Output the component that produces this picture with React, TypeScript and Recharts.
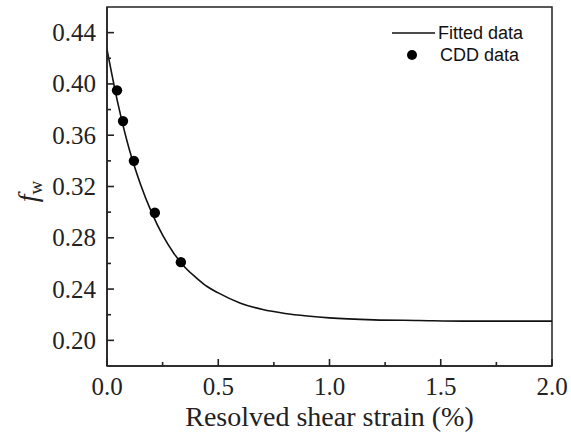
import React from "react";
import {
  ComposedChart,
  Line,
  Scatter,
  XAxis,
  YAxis,
  Legend,
  ReferenceArea,
} from "recharts";

// fitted curve
const fitStrain = [0, 0.05, 0.1, 0.15, 0.2, 0.25, 0.3, 0.35, 0.4, 0.45, 0.5, 0.6, 0.7, 0.8, 0.9, 1.0, 1.2, 1.4, 1.6, 1.8, 2.0];
const fitValue = [0.427, 0.384, 0.349, 0.322, 0.3, 0.282, 0.268, 0.257, 0.249, 0.242, 0.237, 0.229, 0.224, 0.221, 0.219, 0.2175, 0.216, 0.2155, 0.215, 0.215, 0.215];

// CDD points
const cddStrain = [0.045, 0.072, 0.121, 0.215, 0.332];
const cddValue = [0.395, 0.371, 0.34, 0.2995, 0.261];

const xTicks = [0, 0.25, 0.5, 0.75, 1.0, 1.25, 1.5, 1.75, 2.0];
const xLabels = [0, 0.5, 1.0, 1.5, 2.0];
const yTicks = [0.2, 0.22, 0.24, 0.26, 0.28, 0.3, 0.32, 0.34, 0.36, 0.38, 0.4, 0.42, 0.44];
const yLabels = [0.2, 0.24, 0.28, 0.32, 0.36, 0.4, 0.44];
const xDomain = [0, 2];
const yDomain = [0.18, 0.46];

const fitData = fitStrain.map((x, i) => ({ x, y: fitValue[i] }));
const cddData = cddStrain.map((x, i) => ({ x, y: cddValue[i] }));

const SERIF = "Liberation Serif";
const SANS = "Liberation Sans, Arial, sans-serif";
const AXIS = "#222";

const isMajor = (v: number, list: number[]) => list.some((m) => Math.abs(m - v) < 1e-6);

const renderXTick = (props: any) => {
  const { x, y, payload, index } = props;
  const major = isMajor(payload.value, xLabels);
  return (
    <g key={"xt" + index}>
      <line x1={x} x2={x} y1={y} y2={y - (major ? 7 : 4)} stroke={AXIS} strokeWidth={1.6} />
      {major && (
        <text x={x} y={y + 29} textAnchor="middle" fontFamily={SERIF} fontSize={25} fill="#222">
          {payload.value.toFixed(1)}
        </text>
      )}
    </g>
  );
};

const renderYTick = (props: any) => {
  const { x, y, payload, index } = props;
  const major = isMajor(payload.value, yLabels);
  return (
    <g key={"yt" + index}>
      <line x1={x} x2={x + (major ? 7 : 4)} y1={y} y2={y} stroke={AXIS} strokeWidth={1.6} />
      {major && (
        <text x={x - 11} y={y} dy="0.34em" textAnchor="end" fontFamily={SERIF} fontSize={25} fill="#222">
          {payload.value.toFixed(2)}
        </text>
      )}
    </g>
  );
};

const renderLegend = (props: any) => {
  // line entry first, as in the original
  const items = [...(props.payload || [])].sort(
    (a: any, b: any) => (a.type === "line" ? -1 : 0) - (b.type === "line" ? -1 : 0)
  );
  return (
    <div style={{ fontFamily: SANS, fontSize: 18, color: "#111" }}>
      {items.map((it: any) => (
        <div key={it.value} style={{ display: "flex", alignItems: "center", height: 22 }}>
          <svg width={47} height={22}>
            {it.type === "line" ? (
              <line x1={2} x2={45} y1={11} y2={11} stroke="#111" strokeWidth={1.5} />
            ) : (
              <circle cx={22} cy={11} r={5} fill="#000" />
            )}
          </svg>
          <span style={{ marginLeft: it.type === "line" ? 1 : 3, lineHeight: "22px" }}>{it.value}</span>
        </div>
      ))}
    </div>
  );
};

export default function App() {
  return (
    <div style={{ position: "absolute", left: 0, top: 0 }}>
      <ComposedChart width={571} height={433} margin={{ top: 7, right: 19, bottom: 0, left: 0 }}>
        <XAxis
          type="number"
          dataKey="x"
          domain={xDomain}
          ticks={xTicks}
          interval={0}
          height={67}
          tickSize={0}
          tickMargin={0}
          tickLine={false}
          tick={renderXTick}
          stroke={AXIS}
          strokeWidth={1.5}
          label={{
            content: (p: any) => (
              <text x={p.viewBox.x + p.viewBox.width / 2} y={426} textAnchor="middle" fontFamily={SERIF} fontSize={28} fill="#222">
                Resolved shear strain (%)
              </text>
            ),
          }}
        />
        <YAxis
          type="number"
          dataKey="y"
          domain={yDomain}
          ticks={yTicks}
          interval={0}
          width={107}
          tickSize={0}
          tickMargin={0}
          tickLine={false}
          tick={renderYTick}
          stroke={AXIS}
          strokeWidth={1.5}
          label={{
            content: (p: any) => {
              const cy = p.viewBox.y + p.viewBox.height / 2 + 5;
              return (
                <text x={37} y={cy} transform={`rotate(-90 37 ${cy})`} textAnchor="middle" fontFamily={SERIF} fontSize={28} fill="#222">
                  <tspan fontStyle="italic">f</tspan>
                  <tspan fontSize={19} dy={5}>w</tspan>
                </text>
              );
            },
          }}
        />
        {/* plot frame */}
        <ReferenceArea
          x1={xDomain[0]}
          x2={xDomain[1]}
          y1={yDomain[0]}
          y2={yDomain[1]}
          ifOverflow="visible"
          fill="none"
          fillOpacity={0}
          stroke={AXIS}
          strokeWidth={1.5}
          strokeOpacity={1}
        />
        <Legend
          layout="vertical"
          verticalAlign="middle"
          align="center"
          content={renderLegend}
          wrapperStyle={{ left: 390, top: 22, right: "auto", bottom: "auto", width: 150 }}
        />
        <Line
          data={fitData}
          dataKey="y"
          name="Fitted data"
          legendType="line"
          type="monotone"
          stroke="#111"
          strokeWidth={1.6}
          dot={false}
          activeDot={false}
          isAnimationActive={false}
        />
        <Scatter
          data={cddData}
          dataKey="y"
          name="CDD data"
          legendType="circle"
          fill="#000"
          shape={(p: any) => <circle cx={p.cx} cy={p.cy} r={5.2} fill="#000" />}
          isAnimationActive={false}
        />
      </ComposedChart>
    </div>
  );
}
